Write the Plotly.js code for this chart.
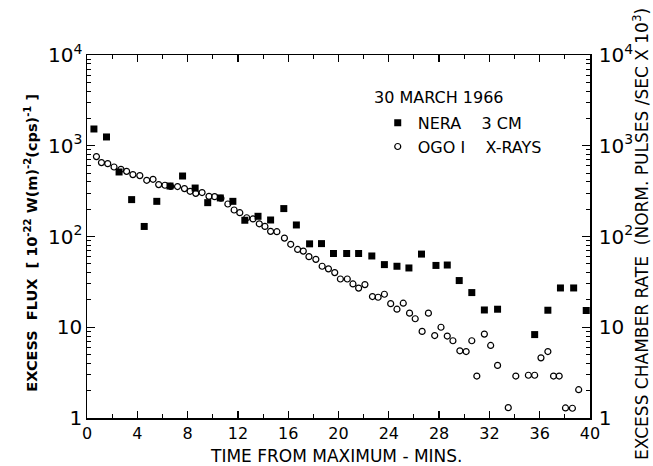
<!DOCTYPE html>
<html>
<head>
<meta charset="utf-8">
<script src="https://cdn.plot.ly/plotly-3.0.1.min.js"></script>
<style>html,body{margin:0;padding:0;background:#fff;}#chart{width:653px;height:466px;}</style>
</head>
<body>
<div id="chart"></div>
<script>
// NERA 3 cm radio flux (filled squares)
const neraTime = [0.55,1.55,2.55,3.55,4.55,5.55,6.6,7.6,8.6,9.6,10.6,11.6,12.55,13.6,14.6,15.65,16.65,17.7,18.65,19.6,20.65,21.6,22.65,23.65,24.65,25.6,26.6,27.75,28.65,29.6,30.6,31.6,32.65,35.6,36.65,37.65,38.7,39.7];
const neraFlux = [1530,1250,514,255,129,244,360,464,342,236,266,244,151,167,152,203,134,83,83.5,65,65,65,61,49,47,45,64,48,48.5,32.7,24.1,15.5,15.8,8.3,15.4,27.1,27.1,15.3];

// OGO I X-ray chamber rate (open circles)
const ogoTime = [0.75,1.15,1.65,2.15,2.7,3.15,3.65,4.2,4.75,5.25,5.7,6.2,6.65,7.2,7.75,8.2,8.65,9.15,9.7,10.15,10.65,11.2,11.7,12.15,12.7,13.2,13.7,14.15,14.6,15.1,15.7,16.2,16.75,17.2,17.65,18.2,18.7,19.2,19.7,20.15,20.7,21.15,21.6,22.1,22.7,23.15,23.65,24.15,24.65,25.15,25.65,26.1,26.65,27.15,27.65,28.15,28.65,29.1,29.65,30.15,30.6,31.0,31.6,32.1,32.65,33.5,34.1,35.1,35.6,36.1,36.65,37.1,37.55,38.05,38.6,39.1];
const ogoRate = [759,652,635,583,550,522,481,469,416,427,373,367,357,355,337,315,299,305,277,275,264,228,196,183,161,156,138,129,114,113,96,82,72,69,60,56,47,44,40,34,34,30,27,29.5,21.8,21.4,23.1,18.2,15.8,18.4,14.3,12.4,9.0,14.3,8.1,10.0,8.0,7.1,5.5,5.4,7.1,2.9,8.4,6.3,3.8,1.30,2.9,2.96,2.96,4.6,5.4,2.9,2.9,1.29,1.28,2.05];

const xTitle = "TIME FROM MAXIMUM - MINS.";
const yLeftTitle = "<b>EXCESS\u00a0\u00a0FLUX\u00a0\u00a0[\u00a010<sup>-22</sup>\u00a0W(m)<sup>-2</sup>(cps)<sup>-1</sup>\u00a0]</b>";
const yRightTitle = "EXCESS CHAMBER RATE\u00a0\u00a0(NORM. PULSES /SEC X 10<sup>3</sup>)";
const dateLabel = "30 MARCH 1966";
const neraName = "NERA\u00a0\u00a0\u00a0\u00a03 CM";
const ogoName = "OGO I\u00a0\u00a0\u00a0\u00a0X-RAYS";

const FONT = "DejaVu Sans, Arial, sans-serif";

const traces = [
  {x: neraTime, y: neraFlux, type: 'scatter', mode: 'markers', name: neraName,
   marker: {symbol: 'square', size: 7, color: '#000'}, yaxis: 'y'},
  {x: ogoTime, y: ogoRate, type: 'scatter', mode: 'markers', name: ogoName,
   marker: {symbol: 'circle-open', size: 6, color: '#000', line: {width: 1.2, color: '#000'}}, yaxis: 'y2'}
];

const logAxis = {
  type: 'log', range: [0, 4], dtick: 1, exponentformat: 'power',
  ticks: 'inside', ticklen: 8, tickwidth: 1.3, tickcolor: '#000',
  minor: {ticks: 'inside', ticklen: 4, tickwidth: 1, tickcolor: '#000', dtick: 'D1', showgrid: false},
  showline: true, linecolor: '#000', linewidth: 1.5,
  showgrid: false, zeroline: false,
  tickfont: {family: FONT, size: 16, color: '#000'}
};

const layout = {
  width: 653, height: 466,
  margin: {l: 87, r: 63, t: 55, b: 48},
  paper_bgcolor: '#fff', plot_bgcolor: '#fff',
  font: {family: FONT, color: '#000'},
  showlegend: true,
  legend: {x: 0.578, y: 0.86, xanchor: 'left', yanchor: 'top', bgcolor: 'rgba(0,0,0,0)',
           font: {family: FONT, size: 16, color: '#000'}},
  xaxis: {
    range: [0, 40], tick0: 0, dtick: 4,
    ticks: 'inside', ticklen: 7, tickwidth: 1.3, tickcolor: '#000',
    minor: {ticks: 'inside', ticklen: 4, tickwidth: 1, tickcolor: '#000', dtick: 2, showgrid: false},
    showline: true, linecolor: '#000', linewidth: 1.5, mirror: 'ticks',
    showgrid: false, zeroline: false,
    tickfont: {family: FONT, size: 16, color: '#000'}
  },
  yaxis: Object.assign({}, logAxis, {side: 'left'}),
  yaxis2: Object.assign({}, logAxis, {side: 'right', overlaying: 'y', ticklabelstandoff: 4}),
  annotations: [
    {text: xTitle, xref: 'paper', yref: 'paper', x: 0.496, y: -0.105, xanchor: 'center', yanchor: 'middle',
     showarrow: false, font: {family: FONT, size: 17, color: '#000'}},
    {text: yLeftTitle, xref: 'paper', yref: 'paper', x: -0.111, y: 0.4835, xanchor: 'center', yanchor: 'middle',
     textangle: -90, showarrow: false, font: {family: FONT, size: 14.5, color: '#000'}},
    {text: yRightTitle, xref: 'paper', yref: 'paper', x: 1.10, y: 0.508, xanchor: 'center', yanchor: 'middle',
     textangle: -90, showarrow: false, font: {family: FONT, size: 17, color: '#000'}},
    {text: dateLabel, xref: 'paper', yref: 'paper', x: 0.5666, y: 0.8835, xanchor: 'left', yanchor: 'middle',
     showarrow: false, font: {family: FONT, size: 16, color: '#000'}}
  ]
};

Plotly.newPlot('chart', traces, layout, {displayModeBar: false, staticPlot: true});
</script>
</body>
</html>
